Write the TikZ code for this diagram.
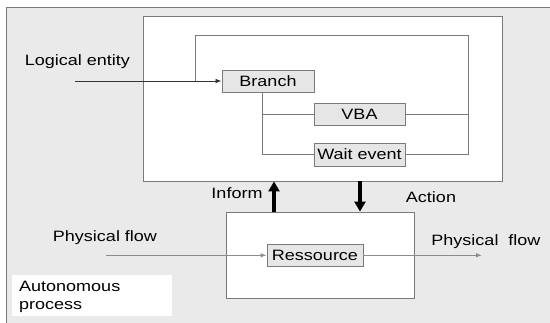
\documentclass[tikz,border=0pt]{standalone}
\usepackage{fontspec}
\setmainfont[FakeStretch=1.2]{Liberation Sans}
\usetikzlibrary{arrows.meta}
\definecolor{bg}{HTML}{EAEAEA}
\definecolor{bx}{HTML}{E6E6E6}
\definecolor{ln}{HTML}{7A7A7A}
\definecolor{fl}{HTML}{8C8C8C}
\tikzset{
  every node/.style={font=\fontsize{15}{18}\selectfont, inner sep=0pt},
  bigbox/.style={draw=ln, fill=white, line width=0.9pt},
  smallbox/.style={draw=ln, fill=bx, line width=0.9pt, minimum height=22pt},
  wire/.style={draw=ln, line width=0.9pt},
  thinarrow/.style={draw=black!80, line width=0.8pt, -{Latex[length=6pt,width=4.5pt]}},
  flowarrow/.style={draw=fl, line width=0.9pt, -{Latex[length=6pt,width=4.5pt]}},
  thickarrow/.style={draw=black, line width=3.5pt, -{Triangle[length=10pt,width=11pt]}},
  lbl/.style={text=black},
}
\begin{document}
\begin{tikzpicture}[x=1pt,y=-1pt]
\useasboundingbox (0,0) rectangle (550,323);
% background
\fill[bg] (6,7) rectangle (550,323);
\draw[ln, line width=0.9pt] (6,323) -- (6,7) -- (550,7);
% top box
\node[bigbox, minimum width=359pt, minimum height=165pt] (top) at (322.5,98.5) {};
% resource box
\node[bigbox, minimum width=187.3pt, minimum height=86pt] (resbox) at (320.3,255) {};
% autonomous box
\node[fill=white, minimum width=160pt, minimum height=41pt] (auto) at (92,295.5) {};
\node[lbl, anchor=west, align=left, font=\fontsize{15}{18}\selectfont] (autotxt) at (19,297) {Autonomous\\process};
% inner nodes
\node[smallbox, minimum width=92pt] (branch) at (268,81) {Branch};
\node[smallbox, minimum width=91pt] (vba) at (359.5,114) {VBA};
\node[smallbox, minimum width=91pt, minimum height=23pt] (wait) at (359.5,154.5) {Wait event};
\node[smallbox, minimum width=96pt, minimum height=22.6pt] (res) at (315,255.3) {Ressource};
% coordinates
\coordinate (le) at (75,81);
\coordinate (loopin) at (195,81);
\coordinate (lt) at (195,35);
\coordinate (rt) at (468,35);
\coordinate (rv) at (468,114);
\coordinate (rw) at (468,154.5);
\coordinate (bx) at (262,92);
\coordinate (pfin) at (106,255.3);
\coordinate (pfout) at (482,255.3);
% logical entity
\draw[thinarrow] (le) -- (branch.west);
\draw[wire] (loopin) -- (lt) -- (rt) -- (rw) -- (wait.east);
\draw[wire] (vba.east) -- (rv);
\draw[wire] (bx) -- (bx |- wait.west) -- (wait.west);
\draw[wire] (bx |- vba.west) -- (vba.west);
% inform/action
\draw[thickarrow] (resbox.north -| 274,0) -- (top.south -| 274,0);
\draw[thickarrow] (top.south -| 360,0) -- (resbox.north -| 360,0);
% physical flows
\draw[flowarrow] (pfin) -- (res.west);
\draw[flowarrow] (res.east) -- (pfout);
% labels
\node[lbl] (tle) at (77.5,62) {Logical entity};
\node[lbl] (tinf) at (237,193.5) {Inform};
\node[lbl] (tact) at (431,197) {Action};
\node[lbl] (tpf1) at (105,238) {Physical flow};
\node[lbl] (tpf2) at (486,242) {Physical\ \ flow};
\end{tikzpicture}
\end{document}
